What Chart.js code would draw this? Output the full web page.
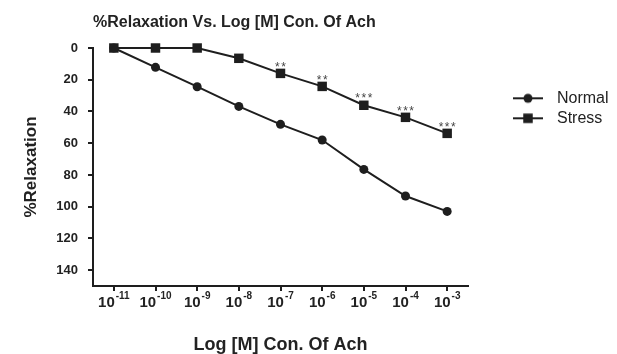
<!DOCTYPE html>
<html>
<head>
<meta charset="utf-8">
<script src="https://cdn.jsdelivr.net/npm/chart.js@4/dist/chart.umd.min.js"></script>
<style>
  html, body { margin: 0; padding: 0; background: #ffffff; }
  #wrap { width: 617px; height: 354px; }
</style>
</head>
<body>
<div id="wrap"><canvas id="c" width="617" height="354"></canvas></div>
<script>
// ---- data ----
const logConcentrations = [-11, -10, -9, -8, -7, -6, -5, -4, -3];
const tickExponents = ['-11', '-10', '-9', '-8', '-7', '-6', '-5', '-4', '-3'];
const normalRelaxation = [0, 12.2, 24.4, 36.8, 48.1, 58, 76.5, 93.3, 103];
const stressRelaxation = [0, 0, 0, 6.5, 16, 24.2, 36.1, 43.7, 53.8];
const stressSignificance = ['', '', '', '', '**', '**', '***', '***', '***'];
const yTickValues = [0, 20, 40, 60, 80, 100, 120, 140];
const seriesNames = ['Normal', 'Stress'];
const chartTitle = '%Relaxation Vs. Log [M] Con. Of Ach';
const xAxisTitle = 'Log [M] Con. Of Ach';
const yAxisTitle = '%Relaxation';

const FONT = "'Liberation Sans', Arial, Helvetica, sans-serif";
const INK = '#222222';
const MARK = '#1e1e1e';

Chart.defaults.font.family = FONT;
Chart.defaults.color = INK;

// legend icons: line with marker, drawn like the series
function makeIcon(kind) {
  const cv = document.createElement('canvas');
  cv.width = 30; cv.height = 12;
  const g = cv.getContext('2d');
  g.strokeStyle = MARK; g.fillStyle = MARK; g.lineWidth = 2;
  g.beginPath(); g.moveTo(0, 6); g.lineTo(30, 6); g.stroke();
  if (kind === 'circle') { g.beginPath(); g.arc(15, 6, 4.5, 0, Math.PI * 2); g.fill(); }
  else { g.fillRect(10.25, 1.25, 9.5, 9.5); }
  return cv;
}
const legendIcons = [makeIcon('circle'), makeIcon('rect')];

const xTickLabelPlugin = {
  id: 'xTickLabels',
  afterDraw(chart) {
    const s = chart.scales.x, ctx = chart.ctx;
    const big = 'bold 15px ' + FONT, small = 'bold 10px ' + FONT;
    ctx.save();
    ctx.fillStyle = INK; ctx.textBaseline = 'alphabetic'; ctx.textAlign = 'left';
    s.ticks.forEach((t, i) => {
      const px = s.getPixelForValue(t.value);
      ctx.font = big; const wb = ctx.measureText('10').width;
      ctx.font = small; const we = ctx.measureText(tickExponents[i]).width;
      const x0 = px - (wb + 1 + we) / 2;
      ctx.font = big; ctx.fillText('10', x0, s.top + 20.5);
      ctx.font = small; ctx.fillText(tickExponents[i], x0 + wb + 1, s.top + 12.5);
    });
    ctx.restore();
  }
};

const significancePlugin = {
  id: 'significance',
  afterDatasetsDraw(chart) {
    const meta = chart.getDatasetMeta(1), ctx = chart.ctx;
    ctx.save();
    ctx.font = '12px ' + FONT; ctx.fillStyle = '#444444';
    ctx.textAlign = 'center'; ctx.textBaseline = 'alphabetic';
    try { ctx.letterSpacing = '1.5px'; } catch (e) {}
    meta.data.forEach((pt, i) => {
      const s = stressSignificance[i];
      if (s) ctx.fillText(s, pt.x + 0.75, pt.y - 2.8);
    });
    ctx.restore();
  }
};

const legendPlacePlugin = {
  id: 'legendPlace',
  afterLayout(chart) {
    const lg = chart.legend;
    if (!lg) return;
    const w = lg.width, h = lg.height;
    lg.left = 503; lg.top = 86.3; lg.right = lg.left + w; lg.bottom = lg.top + h;
  }
};

new Chart(document.getElementById('c'), {
  type: 'line',
  data: {
    datasets: [
      {
        label: seriesNames[0],
        data: logConcentrations.map((x, i) => ({ x, y: normalRelaxation[i] })),
        borderColor: MARK, backgroundColor: MARK, borderWidth: 2,
        pointStyle: 'circle', pointRadius: 4.5, pointBorderWidth: 0,
        pointBackgroundColor: MARK, tension: 0, clip: false
      },
      {
        label: seriesNames[1],
        data: logConcentrations.map((x, i) => ({ x, y: stressRelaxation[i] })),
        borderColor: MARK, backgroundColor: MARK, borderWidth: 2,
        pointStyle: 'rect', pointRadius: 6.7, pointBorderWidth: 0,
        pointBackgroundColor: MARK, tension: 0, clip: false
      }
    ]
  },
  options: {
    responsive: false,
    animation: false,
    devicePixelRatio: 1,
    layout: { padding: { left: 0, right: 149, top: 0, bottom: 0 } },
    plugins: {
      tooltip: { enabled: false },
      title: {
        display: true, text: chartTitle, align: 'start', fullSize: false,
        color: INK, font: { size: 16, weight: 'bold', lineHeight: 1.25 },
        padding: { top: 12.5, bottom: 15.5 }
      },
      legend: {
        display: true, position: 'chartArea', align: 'start',
        labels: {
          usePointStyle: true, pointStyleWidth: 42, padding: 4,
          color: INK, font: { size: 16 },
          generateLabels(chart) {
            const items = Chart.defaults.plugins.legend.labels.generateLabels(chart);
            items.forEach((it, i) => { it.pointStyle = legendIcons[i]; it.fontColor = INK; });
            return items;
          }
        }
      }
    },
    scales: {
      x: {
        type: 'linear', min: -11.5, max: -2.5,
        afterBuildTicks: s => { s.ticks = logConcentrations.map(v => ({ value: v })); },
        afterFit: s => { s.height = 68; },
        border: { display: true, color: MARK, width: 2 },
        grid: { display: true, drawOnChartArea: false, drawTicks: true, tickLength: 5, color: MARK, lineWidth: 2 },
        ticks: { display: false },
        title: {
          display: true, text: xAxisTitle, color: INK,
          font: { size: 18, weight: 'bold', lineHeight: 1 },
          padding: { top: 40, bottom: 0 }
        }
      },
      y: {
        type: 'linear', reverse: true, min: 0, max: 150,
        afterBuildTicks: s => { s.ticks = yTickValues.map(v => ({ value: v })); },
        afterFit: s => { s.width = 93; },
        border: { display: true, color: MARK, width: 2 },
        grid: { display: true, drawOnChartArea: false, drawTicks: true, tickLength: 5, color: MARK, lineWidth: 2 },
        ticks: { color: INK, padding: 10, font: { size: 13, weight: 'bold' } },
        title: {
          display: true, text: yAxisTitle, color: INK,
          font: { size: 17, weight: 'bold' },
          padding: { top: 21, bottom: 10 }
        }
      }
    }
  },
  plugins: [legendPlacePlugin, xTickLabelPlugin, significancePlugin]
});
</script>
</body>
</html>
